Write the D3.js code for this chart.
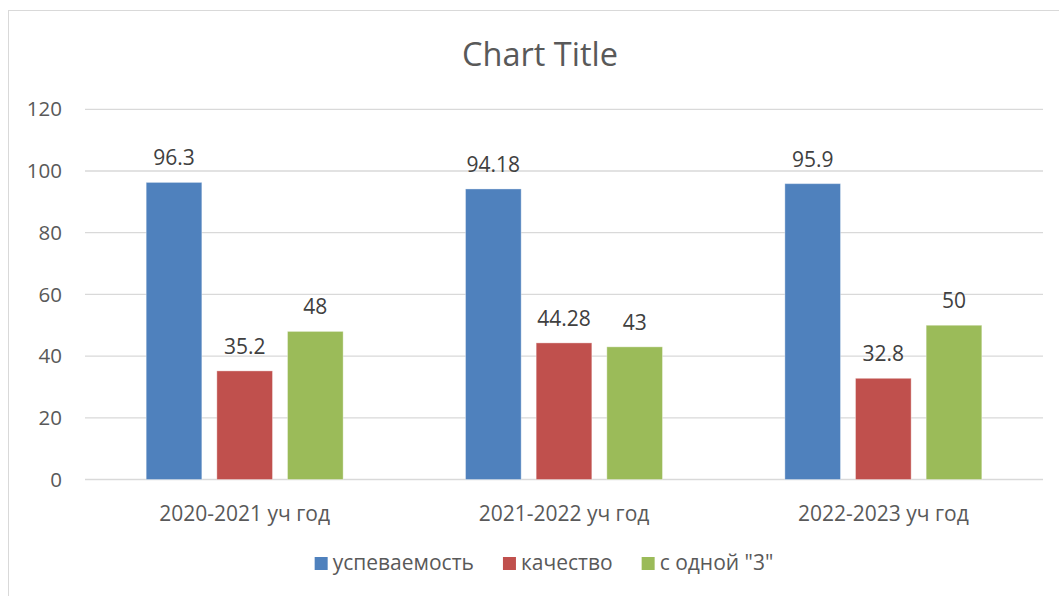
<!DOCTYPE html>
<html>
<head>
<meta charset="utf-8">
<script src="https://cdn.jsdelivr.net/npm/d3@7"></script>
<style>
  html, body { margin: 0; padding: 0; background: #fff; }
  svg { display: block; font-family: "Open Sans", "Noto Sans", sans-serif; }
</style>
</head>
<body>
<svg id="chart" width="1059" height="596"></svg>
<script>
const categories = ["2020-2021 уч год", "2021-2022 уч год", "2022-2023 уч год"];
const seriesNames = ["успеваемость", "качество", "с одной \"3\""];
const uspevaemost = [96.3, 94.18, 95.9];
const kachestvo = [35.2, 44.28, 32.8];
const sOdnoi3 = [48, 43, 50];
const yTicks = [0, 20, 40, 60, 80, 100, 120];
const chartTitle = "Chart Title";

const seriesValues = [uspevaemost, kachestvo, sOdnoi3];
const colors = ["#4F81BD", "#C0504D", "#9BBB59"];

const svg = d3.select("#chart");

// chart area border (extends past right/bottom edge)
svg.append("rect")
  .attr("x", 8.5).attr("y", 10.5)
  .attr("width", 1100).attr("height", 700)
  .attr("fill", "#fff").attr("stroke", "#d9d9d9").attr("stroke-width", 1);

const plot = { left: 85, right: 1043, top: 109.3, bottom: 479.5 };

const y = d3.scaleLinear().domain([0, 120]).range([plot.bottom, plot.top]);
const x0 = d3.scaleBand().domain(categories).range([plot.left, plot.right]).padding(0);

const bw = x0.bandwidth();
const barW = bw / 5.74;
const gap = barW * 0.27;
const groupW = barW * 3 + gap * 2;
const x1 = d3.scaleBand().domain(seriesNames)
  .range([(bw - groupW) / 2, (bw + groupW) / 2])
  .paddingInner(gap / (barW + gap)).paddingOuter(0);

// gridlines
svg.append("g").selectAll("line").data(yTicks).join("line")
  .attr("x1", plot.left).attr("x2", plot.right)
  .attr("y1", d => y(d)).attr("y2", d => y(d))
  .attr("stroke", "#d9d9d9").attr("stroke-width", 1.3);

// y tick labels
svg.append("g").selectAll("text").data(yTicks).join("text")
  .attr("x", 62).attr("y", d => y(d))
  .attr("dy", "0.35em")
  .attr("text-anchor", "end")
  .attr("font-size", 20.5)
  .attr("fill", "#595959")
  .text(d => d);

// bars
const groups = svg.append("g").selectAll("g").data(categories).join("g")
  .attr("transform", c => `translate(${x0(c)},0)`);

groups.each(function(c, ci) {
  const g = d3.select(this);
  seriesNames.forEach((s, si) => {
    const v = seriesValues[si][ci];
    g.append("rect")
      .attr("x", x1(s)).attr("width", x1.bandwidth())
      .attr("y", y(v)).attr("height", y(0) - y(v))
      .attr("fill", colors[si])
      .attr("stroke", "#ffffff").attr("stroke-opacity", 0.35).attr("stroke-width", 1);
    g.append("text")
      .attr("x", x1(s) + x1.bandwidth() / 2)
      .attr("y", y(v) - 17)
      .attr("text-anchor", "middle")
      .attr("font-size", 21)
      .attr("fill", "#404040")
      .text(v);
  });
});

// category labels
svg.append("g").selectAll("text").data(categories).join("text")
  .attr("x", c => x0(c) + bw / 2)
  .attr("y", 521)
  .attr("text-anchor", "middle")
  .attr("font-size", 21)
  .attr("fill", "#595959")
  .text(c => c);

// title
svg.append("text")
  .attr("x", 540).attr("y", 66)
  .attr("text-anchor", "middle")
  .attr("font-size", 32.5)
  .attr("fill", "#595959")
  .text(chartTitle);

// legend
const legend = svg.append("g");
const items = legend.selectAll("g").data(seriesNames).join("g");
items.append("rect")
  .attr("width", 13).attr("height", 13)
  .attr("y", 557)
  .attr("fill", (d, i) => colors[i]);
items.append("text")
  .attr("x", 18).attr("y", 570)
  .attr("font-size", 21)
  .attr("fill", "#595959")
  .text(d => d);
let widths = [];
items.each(function() {
  widths.push(18 + d3.select(this).select("text").node().getComputedTextLength());
});
const itemGap = 29;
const total = d3.sum(widths) + itemGap * (widths.length - 1);
let cx = 544 - total / 2;
items.each(function(d, i) {
  d3.select(this).attr("transform", `translate(${cx},0)`);
  cx += widths[i] + itemGap;
});
</script>
</body>
</html>
